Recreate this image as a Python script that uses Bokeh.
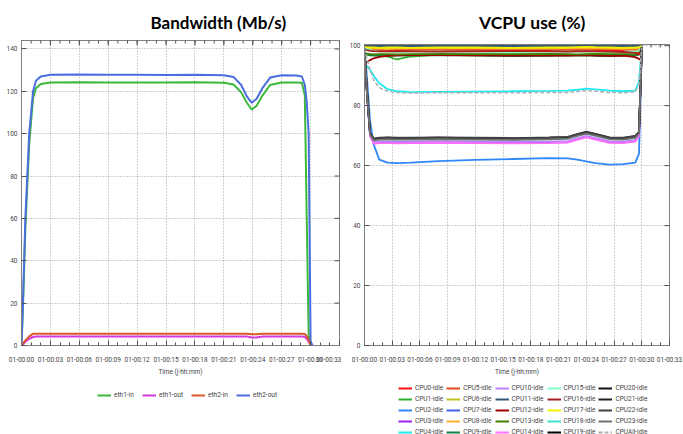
import math
from bokeh.plotting import figure
from bokeh.layouts import row, column
from bokeh.models import (FixedTicker, Legend, LegendItem, Range1d, Label)
from bokeh.embed import file_html
from bokeh.resources import INLINE

# ---------------- data ----------------
tick_minutes = [0, 3, 6, 9, 12, 15, 18, 21, 24, 27, 30, 33]
minor_minutes = list(range(0, 34))
tick_labels = ["01-00:00", "01-00:03", "01-00:06", "01-00:09", "01-00:12", "01-00:15",
               "01-00:18", "01-00:21", "01-00:24", "01-00:27", "01-00:30", "01-00:33"]
bw_yticks = [0, 20, 40, 60, 80, 100, 120, 140]
cpu_yticks = [0, 20, 40, 60, 80, 100]

# Bandwidth (Mb/s), time in minutes
t_bw = [0, 0.15, 0.4, 0.8, 1.2, 1.5, 2.0, 3, 6, 9, 12, 15, 18, 21, 22, 22.8, 23.4, 23.9,
        24.4, 25.0, 25.8, 27, 28.5, 29.1, 29.4, 29.6, 29.8, 30.0, 30.2]
eth1_in = [0, 18, 55, 95, 117, 121.5, 123.5, 124.2, 124.3, 124.2, 124.2, 124.2, 124.3, 124.1,
           123.2, 119.5, 114.5, 111.4, 113.2, 118, 123, 124.2, 124.2, 124, 118, 60, 5, 0, 0]
eth1_out = [0, 0.6, 1.8, 3.2, 4.0, 4.2, 4.2, 4.2, 4.2, 4.2, 4.2, 4.2, 4.2, 4.2, 4.2, 4.2,
            4.2, 3.8, 3.8, 4.2, 4.2, 4.2, 4.2, 4.2, 4.0, 3.2, 1.8, 0.2, 0]
eth2_in = [0, 0.9, 2.4, 4.3, 5.5, 5.6, 5.6, 5.6, 5.6, 5.6, 5.6, 5.6, 5.6, 5.6, 5.6, 5.6,
           5.6, 5.3, 5.3, 5.6, 5.6, 5.6, 5.6, 5.6, 5.4, 4.5, 2.5, 0.3, 0]
eth2_out = [0, 20, 60, 100, 120, 125, 127, 127.8, 128, 127.8, 127.8, 127.7, 127.8, 127.6,
            126.8, 123, 117.5, 114.6, 116.5, 121.5, 126.5, 127.6, 127.5, 127, 123, 115, 100, 2, 0]

# VCPU idle (%), time in minutes
t_cpu = [0, 0.25, 0.6, 1.0, 1.6, 2.5, 3.5, 5, 8, 12, 16, 20, 22, 23, 24, 25, 26.5, 28, 29.3, 29.7, 30.0]
cpu0 = [99.5, 99.3, 99.0, 98.7, 98.5, 98.4, 98.3, 98.3, 98.2, 98.4, 98.5, 98.6, 98.5, 98.4, 98.5, 98.6, 98.5, 98.3, 97.8, 97.6, 99.6]
cpu1 = [97.6, 97.4, 97.2, 97.0, 96.8, 96.4, 95.4, 96.4, 97.0, 97.1, 97.0, 97.1, 97.0, 96.9, 97.0, 97.1, 97.0, 97.0, 96.9, 97.2, 99.5]
cpu2 = [99.0, 90.0, 75.0, 67.0, 62.0, 61.0, 60.8, 61.0, 61.5, 61.9, 62.2, 62.5, 62.4, 62.0, 61.4, 60.8, 60.3, 60.5, 61.0, 64.0, 98.0]
cpu3 = [99.0, 85.0, 70.0, 67.6, 67.8, 67.8, 67.7, 67.8, 67.9, 67.8, 67.7, 67.8, 68.0, 68.9, 69.7, 69.0, 67.9, 67.8, 68.3, 70.0, 99.4]
cpu4 = [94.0, 93.2, 92.0, 90.0, 87.5, 85.5, 84.8, 84.5, 84.6, 84.7, 84.8, 84.9, 85.0, 85.3, 85.7, 85.4, 85.0, 84.8, 85.0, 88.0, 99.8]
cpu5 = [99.6, 99.4, 99.1, 98.9, 98.8, 98.8, 98.7, 98.8, 98.9, 98.8, 98.8, 98.9, 98.8, 98.7, 98.8, 98.8, 98.9, 98.8, 98.6, 98.4, 99.7]
cpu6 = [99.5, 99.4, 99.3, 99.2, 99.2, 99.1, 99.2, 99.2, 99.3, 99.2, 99.2, 99.1, 99.2, 99.2, 99.3, 99.2, 99.2, 99.1, 99.2, 99.3, 99.8]
cpu7 = [99.9, 99.9, 99.8, 99.8, 99.8, 99.8, 99.8, 99.8, 99.8, 99.8, 99.8, 99.8, 99.8, 99.8, 99.8, 99.8, 99.8, 99.8, 99.8, 99.8, 99.9]
cpu8 = [99.5, 99.3, 99.2, 99.0, 99.0, 98.9, 99.0, 99.1, 99.2, 99.1, 99.0, 99.1, 99.2, 99.1, 99.2, 99.1, 99.0, 99.1, 99.0, 99.2, 99.7]
cpu9 = [97.2, 97.0, 96.8, 96.7, 96.6, 96.6, 96.7, 96.8, 96.9, 96.7, 96.5, 96.6, 96.8, 96.7, 96.8, 96.6, 96.5, 96.7, 96.8, 97.0, 99.5]
cpu10 = [99.0, 85.0, 70.3, 67.8, 68.0, 68.0, 67.9, 68.0, 68.1, 68.0, 67.9, 68.0, 68.2, 69.1, 69.9, 69.2, 68.1, 68.0, 68.5, 70.2, 99.4]
cpu11 = [99.9, 99.9, 99.9, 99.9, 99.9, 99.9, 99.9, 99.9, 99.9, 99.9, 99.9, 99.9, 99.9, 99.9, 99.9, 99.9, 99.9, 99.9, 99.9, 99.9, 99.9]
cpu12 = [94.0, 94.5, 95.2, 95.8, 96.3, 96.6, 96.8, 96.9, 96.9, 96.8, 96.7, 96.8, 96.7, 96.8, 96.9, 96.7, 96.6, 96.7, 96.2, 95.6, 95.2]
cpu13 = [97.3, 97.2, 97.1, 97.1, 97.2, 97.2, 97.1, 97.2, 97.3, 97.2, 97.2, 97.3, 97.2, 97.1, 97.2, 97.3, 97.2, 97.2, 97.1, 97.3, 99.6]
cpu14 = [99.0, 84.5, 69.8, 67.3, 67.5, 67.5, 67.4, 67.5, 67.6, 67.5, 67.4, 67.5, 67.7, 68.6, 69.4, 68.7, 67.6, 67.5, 68.0, 69.8, 99.3]
cpu15 = [99.3, 99.0, 98.6, 98.3, 98.1, 98.0, 97.9, 98.0, 98.1, 98.0, 97.9, 98.0, 98.1, 98.0, 98.1, 98.0, 97.9, 98.0, 98.1, 98.3, 99.6]
cpu16 = [98.8, 98.5, 98.3, 98.2, 98.1, 98.1, 98.2, 98.1, 98.0, 98.1, 98.2, 98.1, 98.0, 98.1, 98.2, 98.1, 98.0, 97.9, 97.6, 97.0, 99.2]
cpu17 = [99.6, 99.5, 99.4, 99.4, 99.3, 99.4, 99.4, 99.3, 99.4, 99.4, 99.3, 99.4, 99.4, 99.5, 99.6, 99.5, 99.4, 99.3, 99.4, 99.5, 99.9]
cpu18 = [99.0, 85.2, 70.6, 68.5, 68.8, 68.8, 68.7, 68.8, 68.9, 68.8, 68.7, 68.8, 69.0, 69.9, 70.7, 70.0, 68.9, 68.8, 69.3, 71.0, 99.5]
cpu19 = [99.0, 85.4, 70.8, 68.7, 69.0, 69.1, 69.0, 69.0, 69.1, 69.0, 68.9, 69.1, 69.3, 70.2, 71.0, 70.3, 69.1, 69.0, 69.6, 71.0, 99.5]
cpu20 = [99.0, 85.5, 71.0, 68.9, 69.2, 69.3, 69.2, 69.2, 69.3, 69.2, 69.1, 69.3, 69.5, 70.4, 71.2, 70.5, 69.3, 69.2, 69.8, 71.2, 99.5]
cpu21 = [99.0, 85.3, 70.7, 68.6, 68.9, 69.0, 68.9, 68.9, 69.0, 68.9, 68.8, 69.0, 69.2, 70.1, 70.9, 70.2, 69.0, 68.9, 69.5, 70.9, 99.5]
cpu22 = [99.0, 85.6, 71.1, 69.0, 69.3, 69.4, 69.3, 69.3, 69.4, 69.3, 69.2, 69.4, 69.6, 70.5, 71.3, 70.6, 69.4, 69.3, 69.9, 71.3, 99.5]
cpu23 = [99.0, 85.1, 70.4, 68.4, 68.7, 68.8, 68.7, 68.7, 68.8, 68.7, 68.6, 68.8, 69.0, 69.9, 70.7, 70.0, 68.8, 68.7, 69.3, 70.7, 99.5]
cpu_all = [99.0, 96.0, 92.0, 88.5, 86.0, 84.8, 84.4, 84.2, 84.3, 84.3, 84.3, 84.4, 84.4, 84.7, 85.0, 84.8, 84.4, 84.3, 84.6, 87.0, 99.2]

bw_names = ["eth1-in", "eth1-out", "eth2-in", "eth2-out"]
bw_series = [eth1_in, eth1_out, eth2_in, eth2_out]
bw_colors = ["#3cb83c", "#d838e0", "#d85a28", "#4a6ee0"]

cpu_names = ["CPU%d-idle" % i for i in range(24)] + ["CPUAll-idle"]
cpu_series = [cpu0, cpu1, cpu2, cpu3, cpu4, cpu5, cpu6, cpu7, cpu8, cpu9, cpu10, cpu11,
              cpu12, cpu13, cpu14, cpu15, cpu16, cpu17, cpu18, cpu19, cpu20, cpu21,
              cpu22, cpu23, cpu_all]
cpu_colors = ["#ff1010", "#30b030", "#3088f8", "#a020f0", "#20e8f0",
              "#e04818", "#c0c020", "#4060e0", "#ffb030", "#108040",
              "#c080ff", "#305878", "#a00000", "#408000", "#ff70ff",
              "#80ffc8", "#a82020", "#f0f000", "#40e0d0", "#000000",
              "#101010", "#202020", "#404040", "#707070", "#b0b0b0"]

FONT = "Roboto"
LEG_H = 56
NAN = float("nan")
TICK_COLOR = "#505050"


def style(p, yticks, xmax, ymax):
    xt = FixedTicker(ticks=tick_minutes, minor_ticks=minor_minutes)
    yt = FixedTicker(ticks=yticks, minor_ticks=[])
    p.xaxis.ticker = xt
    p.yaxis.ticker = yt
    p.xaxis.major_label_overrides = {m: s for m, s in zip(tick_minutes, tick_labels)}
    p.xaxis.axis_label = "Time (j-hh:mm)"
    p.xaxis.axis_label_text_font = FONT
    p.xaxis.axis_label_text_font_size = "6.5px"
    p.xaxis.axis_label_text_font_style = "normal"
    p.xaxis.axis_label_text_color = "#444444"
    p.xaxis.axis_label_standoff = 1
    for ax in (p.xaxis[0], p.yaxis[0]):
        ax.major_label_text_font = FONT
        ax.major_label_text_font_size = "6.5px"
        ax.major_label_text_color = "#444444"
    p.xaxis.major_label_standoff = 10
    p.yaxis.major_label_standoff = 4
    for ax in p.axis:
        ax.axis_line_color = "#808080"
        ax.major_tick_line_color = TICK_COLOR
        ax.minor_tick_line_color = TICK_COLOR
        ax.major_tick_in = 5
        ax.major_tick_out = 0
        ax.minor_tick_in = 3
        ax.minor_tick_out = 0
    p.xgrid.ticker = xt
    p.ygrid.ticker = yt
    p.grid.grid_line_color = "#a0a0a0"
    p.grid.grid_line_dash = "1 2"
    p.grid.grid_line_width = 1
    p.outline_line_color = "#808080"
    # mirrored inward ticks on the top and right edges (outer half is clipped by the frame)
    p.scatter(x=tick_minutes, y=[ymax] * len(tick_minutes), marker="dash", size=10,
              angle=math.pi / 2, line_color=TICK_COLOR, line_width=1)
    p.scatter(x=minor_minutes, y=[ymax] * len(minor_minutes), marker="dash", size=6,
              angle=math.pi / 2, line_color=TICK_COLOR, line_width=1)
    p.scatter(x=[xmax] * len(yticks), y=yticks, marker="dash", size=10,
              line_color=TICK_COLOR, line_width=1)


def blank_fig(width, height, left, right):
    # same side borders as the plot below it, x measured in figure pixels
    f = figure(width=width, height=height, x_range=Range1d(-left, width - left),
               y_range=Range1d(height, 0), output_backend="svg", toolbar_location=None,
               x_axis_type=None, y_axis_type=None, min_border_left=left,
               min_border_right=right, min_border_top=0, min_border_bottom=0,
               outline_line_color=None)
    f.grid.visible = False
    return f


def title_fig(width, height, left, right, text, cx, size):
    f = blank_fig(width, height, left, right)
    f.add_layout(Label(x=cx, y=21.5, text=text, text_align="center", text_baseline="middle",
                       text_font="Lato", text_font_style="bold", text_font_size=size,
                       text_color="#000000"))
    return f


def legend_fig(width, left, right, names, colors, dashes, location, nrows):
    lf = blank_fig(width, LEG_H, left, right)
    items = []
    for name, c, d in zip(names, colors, dashes):
        r = lf.line(x=[NAN], y=[NAN], line_color=c, line_width=2, line_dash=d)
        items.append(LegendItem(label=name, renderers=[r]))
    kw = dict(nrows=nrows) if nrows else {}
    leg = Legend(items=items, orientation="vertical" if nrows else "horizontal",
                 location=location, padding=0, margin=0, spacing=3 if nrows else 8,
                 glyph_width=14, glyph_height=8, label_height=8, label_standoff=3,
                 label_text_font=FONT, label_text_font_size="6.5px",
                 label_text_color="#444444", border_line_color=None,
                 background_fill_alpha=0, **kw)
    lf.add_layout(leg)
    return lf


BW_YMAX = 144
CPU_YMAX = 100.4
XMAX = 33

# left column: title 32px, plot frame from y=40 to y=345
p1 = figure(width=341, height=346, x_range=Range1d(0, XMAX), y_range=Range1d(0, BW_YMAX),
            output_backend="svg", toolbar_location=None,
            min_border_left=21, min_border_right=2, min_border_top=8, min_border_bottom=33)
style(p1, bw_yticks, XMAX, BW_YMAX)
for name, ys, c in zip(bw_names, bw_series, bw_colors):
    p1.line(t_bw, ys, line_color=c, line_width=2)

# right column: title 36px, plot frame from y=44 to y=345
p2 = figure(width=342, height=342, x_range=Range1d(0, XMAX), y_range=Range1d(0, CPU_YMAX),
            output_backend="svg", toolbar_location=None,
            min_border_left=23, min_border_right=14, min_border_top=8, min_border_bottom=33)
style(p2, cpu_yticks, XMAX, CPU_YMAX)
for name, ys, c in zip(cpu_names, cpu_series, cpu_colors):
    if name == "CPUAll-idle":
        p2.line(t_cpu, ys, line_color=c, line_width=1.5, line_dash="4 2")
    else:
        p2.line(t_cpu, ys, line_color=c, line_width=1.8)

t1 = title_fig(341, 32, 21, 2, "Bandwidth (Mb/s)", 190, "17px")
t2 = title_fig(342, 36, 23, 14, "VCPU use (%)", 165, "17.5px")

cpu_dashes = ["solid"] * 24 + ["4 2"]
l1 = legend_fig(341, 21, 2, bw_names, bw_colors, ["solid"] * 4, (76, 35), None)
l2 = legend_fig(342, 23, 14, cpu_names, cpu_colors, cpu_dashes, (34, -2), 5)

layout = row(column(t1, p1, l1), column(t2, p2, l2))
open("out.html", "w").write(file_html(layout, INLINE))
